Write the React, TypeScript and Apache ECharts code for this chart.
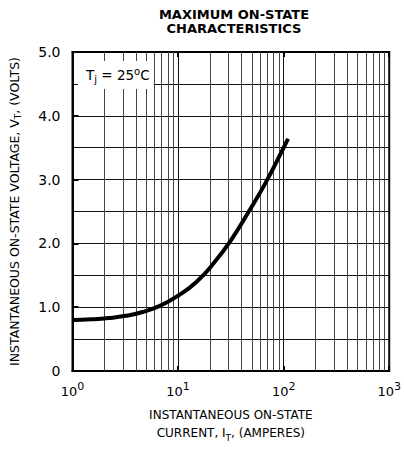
import React, { useEffect, useRef } from "react";
import * as echarts from "echarts";

// Curve (I_T in amperes, V_T in volts)
const CURRENT_A = [1, 1.5, 2.2, 3.2, 4.6, 6.8, 10, 15, 22, 32, 46, 68, 100, 110];
const VOLTAGE_V = [0.8, 0.81, 0.83, 0.865, 0.925, 1.025, 1.18, 1.4, 1.7, 2.06, 2.48, 2.96, 3.5, 3.64];

// Axis definitions
const X_MIN = 1;
const X_MAX = 1000;
const Y_MIN = 0;
const Y_MAX = 5;
const Y_MAJOR = 1;
const MINOR_MULTIPLIERS = [2, 3, 4, 5, 6, 7, 8, 9];
const DECADES = [1, 10, 100];
const MINOR_X = DECADES.flatMap((d) => MINOR_MULTIPLIERS.map((m) => m * d));

const TITLE = "MAXIMUM ON-STATE\nCHARACTERISTICS";
const FONT = "DejaVu Sans";

export default function App() {
  const ref = useRef<HTMLDivElement>(null);

  useEffect(() => {
    if (!ref.current) return;
    const chart = echarts.init(ref.current, undefined, { renderer: "svg" });
    const gridColor = "#111";
    chart.setOption({
      animation: false,
      backgroundColor: "#fff",
      title: {
        text: TITLE,
        left: 229,
        top: 2,
        textAlign: "center",
        textStyle: {
          fontFamily: FONT,
          fontWeight: "bold",
          fontSize: 13,
          lineHeight: 14,
          color: "#000",
        },
      },
      grid: {
        left: 70,
        right: 14,
        top: 52,
        bottom: 78,
        show: true,
        borderColor: "#000",
        borderWidth: 2,
        backgroundColor: "transparent",
      },
      xAxis: [
        {
          type: "log",
          logBase: 10,
          min: X_MIN,
          max: X_MAX,
          axisLine: { show: true, lineStyle: { color: "#000", width: 2 } },
          axisTick: { show: true, inside: true, length: 5, lineStyle: { color: "#000", width: 2 } },
          splitLine: { show: true, lineStyle: { color: gridColor, width: 1 } },
          axisLabel: {
            margin: 10,
            formatter: (v: number) => `{b|10}{s|${Math.round(Math.log10(v))}}`,
            rich: {
              b: { fontFamily: FONT, fontSize: 13, lineHeight: 20, color: "#000" },
              s: { fontFamily: FONT, fontSize: 11, lineHeight: 11, verticalAlign: "top", color: "#000" },
            },
          },
          name: "{a|INSTANTANEOUS ON-STATE}\n{a|CURRENT, I}{s|T}{a|, (AMPERES)}",
          nameLocation: "middle",
          nameGap: 35,
          nameTextStyle: {
            rich: {
              a: { fontFamily: FONT, fontSize: 12, lineHeight: 18, color: "#000" },
              s: { fontFamily: FONT, fontSize: 9, lineHeight: 9, verticalAlign: "bottom", color: "#000" },
            },
          },
        },
        {
          type: "log",
          logBase: 10,
          min: X_MIN,
          max: X_MAX,
          position: "top",
          axisLine: { show: true, lineStyle: { color: "#000", width: 2 } },
          axisTick: { show: true, inside: true, length: 5, lineStyle: { color: "#000", width: 2 } },
          splitLine: { show: false },
          axisLabel: { show: false },
        },
      ],
      yAxis: {
        type: "value",
        min: Y_MIN,
        max: Y_MAX,
        interval: Y_MAJOR,
        axisLine: { show: true, lineStyle: { color: "#000", width: 2 } },
        axisTick: { show: true, inside: true, length: 6, lineStyle: { color: "#000", width: 2 } },
        splitLine: { show: true, lineStyle: { color: gridColor, width: 1 } },
        minorTick: { show: false, splitNumber: 2 },
        minorSplitLine: { show: true, lineStyle: { color: gridColor, width: 1 } },
        axisLabel: {
          margin: 12,
          fontFamily: FONT,
          fontSize: 14,
          color: "#000",
          formatter: (v: number) => (v === 0 ? "0" : v.toFixed(1)),
        },
        name: "{a|INSTANTANEOUS ON-STATE VOLTAGE, V}{s|T}{a|, (VOLTS)}",
        nameLocation: "middle",
        nameRotate: 90,
        nameGap: 50,
        nameTextStyle: {
          rich: {
            a: { fontFamily: FONT, fontSize: 12.5, lineHeight: 16, color: "#000" },
            s: { fontFamily: FONT, fontSize: 9, lineHeight: 9, verticalAlign: "bottom", color: "#000" },
          },
        },
      },
      graphic: [
        {
          type: "text",
          left: 78,
          top: 61,
          z: 100,
          style: {
            text: "{a|T}{s|j}{a| = 25}{p|o}{a|C}",
            backgroundColor: "#fff",
            padding: [5, 4, 5, 8],
            rich: {
              a: { fontFamily: FONT, fontSize: 13.5, lineHeight: 18, fill: "#000", color: "#000" },
              s: { fontFamily: FONT, fontSize: 10, lineHeight: 10, verticalAlign: "bottom", fill: "#000", color: "#000" },
              p: { fontFamily: FONT, fontSize: 10, lineHeight: 10, verticalAlign: "top", fill: "#000", color: "#000" },
            },
          },
        },
      ],
      series: [
        {
          type: "line",
          xAxisIndex: 0,
          yAxisIndex: 0,
          data: CURRENT_A.map((x, i) => [x, VOLTAGE_V[i]]),
          smooth: 0.5,
          showSymbol: false,
          symbol: "none",
          lineStyle: { color: "#000", width: 4 },
          z: 5,
          markLine: {
            silent: true,
            symbol: "none",
            label: { show: false },
            lineStyle: { color: "#444", width: 1, type: "solid" },
            data: MINOR_X.map((x) => ({ xAxis: x })),
            z: 1,
          },
        },
      ],
    });
    return () => chart.dispose();
  }, []);

  return (
    <div
      ref={ref}
      style={{ position: "absolute", left: 0, top: 0, width: 404, height: 449 }}
    />
  );
}
